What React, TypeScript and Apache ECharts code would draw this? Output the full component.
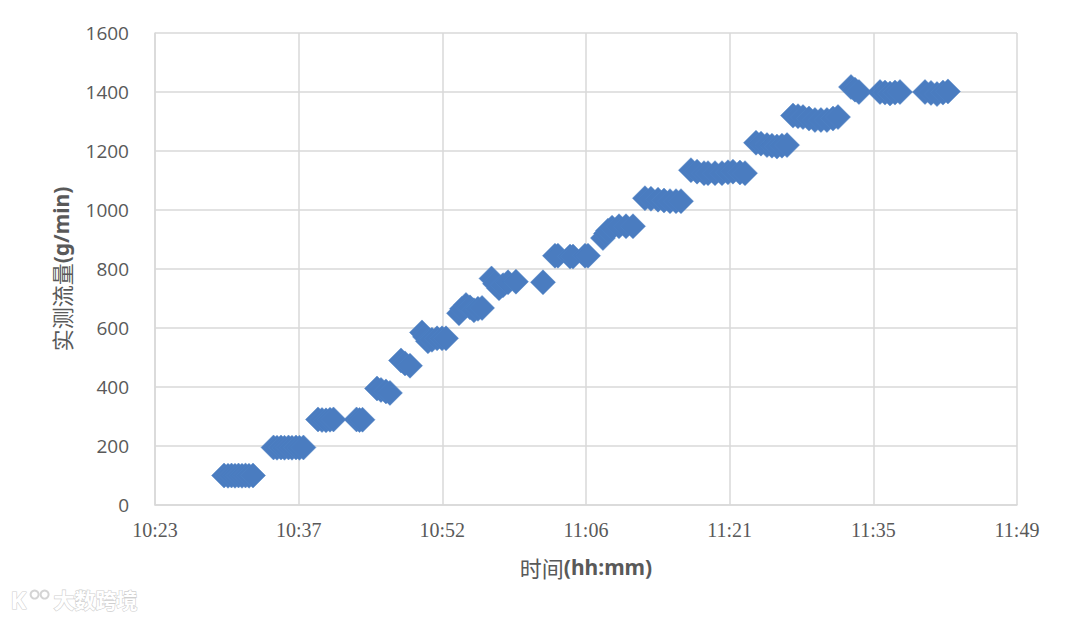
import React, { useEffect, useRef } from 'react';
import * as echarts from 'echarts';

// X axis: Excel-style time axis, 0.433 day .. 0.493 day, major unit 0.01 day
const X_AXIS_START_MIN = 623.52; // minutes since midnight (10:23:31)
const X_TICK_STEP_MIN = 14.4;
const X_TICK_LABELS = ['10:23', '10:37', '10:52', '11:06', '11:21', '11:35', '11:49'];

const Y_MIN = 0;
const Y_MAX = 1600;
const Y_STEP = 200;

// Sample times, in minutes after 10:00 (e.g. 30.44 = 10:30:26)
const SAMPLE_MINUTES = [
  30.44, 30.84, 31.19, 31.54, 31.89, 32.24, 32.59, 32.94, 33.34,
  35.40, 35.75, 36.15, 36.50, 36.90, 37.25, 37.65, 38.00, 38.40,
  39.86, 40.26, 40.66, 41.06, 41.41, 43.72, 44.02, 44.32,
  45.77, 46.17, 46.67, 47.07,
  48.18, 48.58, 49.08,
  50.28, 50.58, 50.88, 51.28, 51.79, 52.29, 52.69,
  53.99, 54.29, 54.69, 55.09, 55.49, 55.89, 56.30,
  57.25, 57.60, 58.00, 58.40, 58.90, 59.70, 62.41,
  63.61, 63.91, 65.12, 65.42, 66.62, 66.92,
  68.42, 68.72, 68.92, 69.33, 70.03, 70.73, 71.43,
  72.63, 73.23, 73.94, 74.54, 75.14, 75.74, 76.24,
  77.24, 77.85, 78.55, 78.95, 79.65, 80.35, 80.95, 81.45, 82.15, 82.66,
  83.76, 84.26, 84.86, 85.36, 85.86, 86.36, 86.87,
  87.47, 87.97, 88.47, 89.07, 89.67, 90.27, 90.87, 91.48, 91.98,
  93.28, 93.68, 94.08,
  96.19, 96.69, 97.19, 97.69, 98.19,
  100.70, 101.30, 101.90, 102.50, 103.00,
];

// Measured flow (g/min)
const FLOW_VALUES = [
  100, 99, 100, 99, 100, 99, 100, 99, 100,
  195, 194, 195, 194, 195, 194, 195, 194, 195,
  290, 288, 287, 289, 290, 290, 288, 289,
  395, 390, 385, 380,
  490, 480, 472,
  585, 570, 555, 560, 565, 565, 565,
  650, 665, 678, 670, 660, 665, 668,
  768, 750, 735, 745, 755, 757, 755,
  845, 845, 842, 842, 845, 845,
  905, 920, 930, 940, 945, 945, 945,
  1040, 1038, 1035, 1032, 1030, 1030, 1030,
  1135, 1130, 1125, 1125, 1125, 1125, 1128, 1130, 1127, 1125,
  1228, 1225, 1220, 1218, 1215, 1218, 1220,
  1320, 1318, 1315, 1310, 1305, 1305, 1305, 1310, 1315,
  1417, 1408, 1400,
  1400, 1398, 1395, 1398, 1400,
  1400, 1397, 1393, 1398, 1402,
];

const TEXT_COLOR = '#595959';
const GRID_COLOR = '#d9d9d9';
const MARKER_COLOR = '#4a7cc0';

export default function App() {
  const ref = useRef<HTMLDivElement>(null);

  useEffect(() => {
    if (!ref.current) return;
    const chart = echarts.init(ref.current, undefined, { renderer: 'svg' });
    const data = SAMPLE_MINUTES.map((m, i) => [600 + m - X_AXIS_START_MIN, FLOW_VALUES[i]]);
    const xSpan = X_TICK_STEP_MIN * (X_TICK_LABELS.length - 1);

    const titleRich = {
      a: { fontFamily: 'Noto Sans CJK SC', fontSize: 22, color: TEXT_COLOR },
      b: { fontFamily: 'Noto Sans', fontSize: 21, fontWeight: 'bold', color: TEXT_COLOR },
    };

    chart.setOption({
      animation: false,
      backgroundColor: '#ffffff',
      grid: { left: 155, right: 63, top: 33, bottom: 117, containLabel: false },
      xAxis: {
        type: 'value',
        min: 0,
        max: xSpan,
        interval: X_TICK_STEP_MIN,
        name: '{a|时间}{b|(hh:mm)}',
        nameLocation: 'middle',
        nameGap: 51,
        nameTextStyle: { rich: titleRich },
        axisLine: { show: true, lineStyle: { color: GRID_COLOR, width: 1.5 } },
        axisTick: { show: false },
        splitLine: { show: true, lineStyle: { color: GRID_COLOR, width: 1.5 } },
        axisLabel: {
          margin: 15,
          fontFamily: 'Liberation Serif',
          fontSize: 20,
          color: TEXT_COLOR,
          showMinLabel: true,
          showMaxLabel: true,
          formatter: (v: number) => X_TICK_LABELS[Math.round(v / X_TICK_STEP_MIN)] ?? '',
        },
      },
      yAxis: {
        type: 'value',
        min: Y_MIN,
        max: Y_MAX,
        interval: Y_STEP,
        name: '{a|实测流量}{b|(g/min)}',
        nameLocation: 'middle',
        nameGap: 83,
        nameRotate: 90,
        nameTextStyle: { rich: titleRich },
        axisLine: { show: true, lineStyle: { color: GRID_COLOR, width: 1.5 } },
        axisTick: { show: false },
        splitLine: { show: true, lineStyle: { color: GRID_COLOR, width: 1.5 } },
        axisLabel: {
          margin: 26,
          fontFamily: 'Open Sans',
          fontSize: 19,
          color: TEXT_COLOR,
          formatter: (v: number) => String(v),
        },
      },
      series: [
        {
          type: 'scatter',
          symbol: 'diamond',
          symbolSize: 25,
          itemStyle: { color: MARKER_COLOR, opacity: 1, borderColor: '#4f82c4', borderWidth: 0.5 },
          data,
        },
      ],
      graphic: [
        {
          type: 'group',
          left: 10,
          top: 587,
          children: [
            {
              type: 'text',
              x: 0,
              y: 0,
              style: {
                text: 'K',
                fontFamily: 'Noto Sans',
                fontSize: 24,
                fontWeight: 'bold',
                fill: '#ffffff',
                stroke: '#cfcfcf',
                lineWidth: 1.2,
              },
            },
            { type: 'ring', shape: { cx: 24, cy: 7, r: 5, r0: 3 }, style: { fill: '#d4d4d4' } },
            { type: 'ring', shape: { cx: 34, cy: 7, r: 5, r0: 3 }, style: { fill: '#d4d4d4' } },
            {
              type: 'text',
              x: 43,
              y: 1,
              style: {
                text: '大数跨境',
                fontFamily: 'Noto Sans CJK SC',
                fontSize: 21,
                fontWeight: 'bold',
                fill: '#ffffff',
                stroke: '#cfcfcf',
                lineWidth: 1.2,
              },
            },
          ],
        },
      ],
    });

    return () => chart.dispose();
  }, []);

  return (
    <div
      ref={ref}
      style={{ position: 'fixed', left: 0, top: 0, width: 1080, height: 622, background: '#fff' }}
    />
  );
}
